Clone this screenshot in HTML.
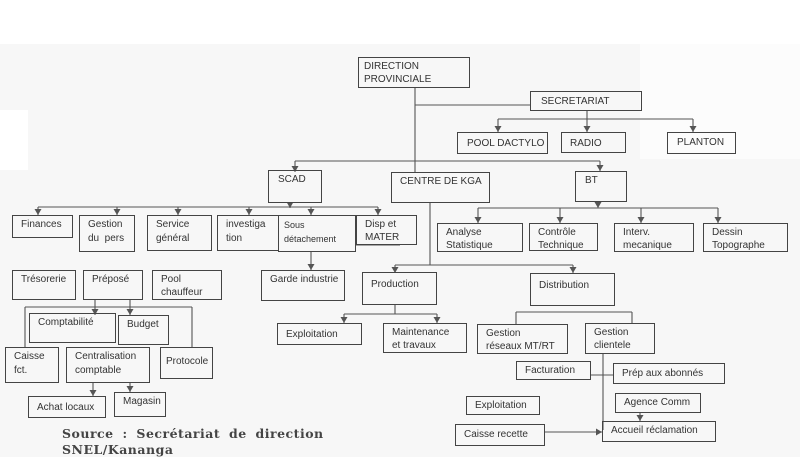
<!DOCTYPE html>
<html><head><meta charset="utf-8"><style>
body{margin:0;width:800px;height:457px;background:#f7f7f7;position:relative;overflow:hidden;font-family:"Liberation Sans",sans-serif;}
.b{position:absolute;border:1.2px solid #444;box-sizing:border-box;font-size:10px;color:#333;line-height:14px;padding:2px 5px;background:transparent;white-space:nowrap}
svg{position:absolute;left:0;top:0}
.src{position:absolute;left:62px;font-family:"DejaVu Serif","Liberation Serif",serif;font-weight:bold;font-size:12.5px;color:#444;letter-spacing:0.5px;word-spacing:4px}
</style></head><body>
<div style="position:absolute;left:0;top:0;width:800px;height:44px;background:#fff"></div>
<div style="position:absolute;left:640px;top:44px;width:160px;height:115px;background:#fcfcfc"></div>
<div style="position:absolute;left:0;top:110px;width:28px;height:60px;background:#fff"></div>
<svg width="800" height="457">
<defs>
<marker id="d" markerWidth="7" markerHeight="6" refX="3.5" refY="6" markerUnits="userSpaceOnUse" orient="0"><path d="M0,0 L7,0 L3.5,6z" fill="#555"/></marker>
<marker id="r" markerWidth="6" markerHeight="7" refX="6" refY="3.5" markerUnits="userSpaceOnUse" orient="0"><path d="M0,0 L6,3.5 L0,7z" fill="#555"/></marker></defs>
<g stroke="#555" stroke-width="1.1" fill="none">
<path d="M415 87V172M415 105H530"/>
<path d="M587 110V132" marker-end="url(#d)"/>
<path d="M498 119H693"/>
<path d="M498 119V132" marker-end="url(#d)"/><path d="M693 119V132" marker-end="url(#d)"/>
<path d="M295 161H600"/><path d="M295 161V172" marker-end="url(#d)"/><path d="M600 161V171" marker-end="url(#d)"/>
<path d="M290 203V208" marker-end="url(#d)"/><path d="M38 207H378"/>
<path d="M38 207V215" marker-end="url(#d)"/><path d="M117 207V215" marker-end="url(#d)"/><path d="M178 207V215" marker-end="url(#d)"/><path d="M249 207V215" marker-end="url(#d)"/><path d="M311 207V215" marker-end="url(#d)"/><path d="M378 207V215" marker-end="url(#d)"/>
<path d="M598 202V208" marker-end="url(#d)"/><path d="M478 208H718"/>
<path d="M478 208V223" marker-end="url(#d)"/><path d="M560 208V223" marker-end="url(#d)"/><path d="M641 208V223" marker-end="url(#d)"/><path d="M718 208V223" marker-end="url(#d)"/>
<path d="M430 202V265M395 265H573"/><path d="M395 265V273" marker-end="url(#d)"/><path d="M573 265V273" marker-end="url(#d)"/>
<path d="M311 252V270" marker-end="url(#d)"/>
<path d="M356 245H400"/>
<path d="M395 305V314M344 314H437"/><path d="M344 314V323" marker-end="url(#d)"/><path d="M437 314V323" marker-end="url(#d)"/>
<path d="M516 312H632M516 312V324M632 312V324"/>
<path d="M603 354V430"/><path d="M591 375H613"/>
<path d="M640 413V421" marker-end="url(#d)"/><path d="M545 432H602" marker-end="url(#r)"/>
<path d="M25 307H192M25 307V347M192 307V347"/><path d="M95 300V315" marker-end="url(#d)"/><path d="M130 300V315" marker-end="url(#d)"/>
<path d="M93 383V396" marker-end="url(#d)"/><path d="M130 383V392" marker-end="url(#d)"/>
</g></svg>
<div class="b" style="left:358px;top:57px;width:112px;height:31px;line-height:13px">DIRECTION<br>PROVINCIALE</div>
<div class="b" style="left:530px;top:91px;width:112px;height:20px;padding-left:10px;line-height:15px">SECRETARIAT</div>
<div class="b" style="left:457px;top:132px;width:91px;height:22px;padding-left:9px;line-height:17px">POOL DACTYLO</div>
<div class="b" style="left:561px;top:132px;width:65px;height:21px;padding-left:8px;line-height:17px">RADIO</div>
<div class="b" style="left:667px;top:132px;width:69px;height:22px;padding-left:9px;line-height:16px">PLANTON</div>
<div class="b" style="left:268px;top:170px;width:54px;height:33px;padding-left:9px">SCAD</div>
<div class="b" style="left:391px;top:172px;width:99px;height:31px;padding-left:8px">CENTRE DE KGA</div>
<div class="b" style="left:575px;top:171px;width:52px;height:31px;padding-left:9px">BT</div>
<div class="b" style="left:12px;top:215px;width:61px;height:23px;padding-left:8px">Finances</div>
<div class="b" style="left:79px;top:215px;width:56px;height:37px;padding-left:8px">Gestion<br>du &nbsp;pers</div>
<div class="b" style="left:147px;top:215px;width:65px;height:36px;padding-left:8px">Service<br>général</div>
<div class="b" style="left:217px;top:215px;width:62px;height:36px;padding-left:8px">investiga<br>tion</div>
<div class="b" style="left:278px;top:215px;width:78px;height:37px;font-size:9px">Sous<br>détachement</div>
<div class="b" style="left:356px;top:215px;width:61px;height:30px;padding-left:8px;line-height:13px">Disp et<br>MATER</div>
<div class="b" style="left:437px;top:223px;width:86px;height:29px;padding-left:8px;line-height:13px">Analyse<br>Statistique</div>
<div class="b" style="left:529px;top:223px;width:69px;height:28px;padding-left:8px;line-height:13px">Contrôle<br>Technique</div>
<div class="b" style="left:614px;top:223px;width:80px;height:29px;padding-left:8px;line-height:13px">Interv.<br>mecanique</div>
<div class="b" style="left:703px;top:223px;width:85px;height:29px;padding-left:8px;line-height:13px">Dessin<br>Topographe</div>
<div class="b" style="left:12px;top:270px;width:64px;height:30px;padding-left:8px">Trésorerie</div>
<div class="b" style="left:83px;top:270px;width:60px;height:30px;padding-left:8px">Préposé</div>
<div class="b" style="left:152px;top:270px;width:70px;height:30px;padding-left:8px;line-height:13px">Pool<br>chauffeur</div>
<div class="b" style="left:261px;top:270px;width:84px;height:31px;padding-left:8px">Garde industrie</div>
<div class="b" style="left:362px;top:272px;width:75px;height:33px;padding-left:8px;line-height:20px">Production</div>
<div class="b" style="left:530px;top:273px;width:85px;height:33px;padding-left:8px;line-height:20px">Distribution</div>
<div class="b" style="left:29px;top:313px;width:87px;height:30px;padding-left:8px">Comptabilité</div>
<div class="b" style="left:118px;top:315px;width:51px;height:30px;padding-left:8px">Budget</div>
<div class="b" style="left:277px;top:323px;width:85px;height:22px;padding-left:8px;line-height:17px">Exploitation</div>
<div class="b" style="left:383px;top:323px;width:84px;height:30px;padding-left:8px;line-height:13px">Maintenance<br>et travaux</div>
<div class="b" style="left:477px;top:324px;width:91px;height:30px;padding-left:8px;line-height:13px">Gestion<br>réseaux MT/RT</div>
<div class="b" style="left:585px;top:323px;width:70px;height:31px;padding-left:8px;line-height:13px">Gestion<br>clientele</div>
<div class="b" style="left:5px;top:347px;width:54px;height:36px;padding-left:8px">Caisse<br>fct.</div>
<div class="b" style="left:66px;top:347px;width:84px;height:36px;padding-left:8px">Centralisation<br>comptable</div>
<div class="b" style="left:160px;top:347px;width:53px;height:32px;padding-left:5px;line-height:24px">Protocole</div>
<div class="b" style="left:28px;top:396px;width:78px;height:22px;padding-left:8px;line-height:17px">Achat locaux</div>
<div class="b" style="left:114px;top:392px;width:52px;height:25px;padding-left:8px">Magasin</div>
<div class="b" style="left:516px;top:361px;width:75px;height:19px;padding-left:8px;line-height:13px">Facturation</div>
<div class="b" style="left:613px;top:363px;width:112px;height:21px;padding-left:8px;line-height:15px">Prép aux abonnés</div>
<div class="b" style="left:466px;top:396px;width:74px;height:19px;padding-left:8px;line-height:13px">Exploitation</div>
<div class="b" style="left:615px;top:393px;width:86px;height:20px;padding-left:8px;line-height:14px">Agence Comm</div>
<div class="b" style="left:455px;top:424px;width:90px;height:22px;padding-left:8px;line-height:16px">Caisse recette</div>
<div class="b" style="left:602px;top:421px;width:114px;height:21px;padding-left:8px;line-height:14px">Accueil réclamation</div>
<div class="src" style="top:426px">Source : Secrétariat de direction</div>
<div class="src" style="top:442px">SNEL/Kananga</div>
</body></html>
